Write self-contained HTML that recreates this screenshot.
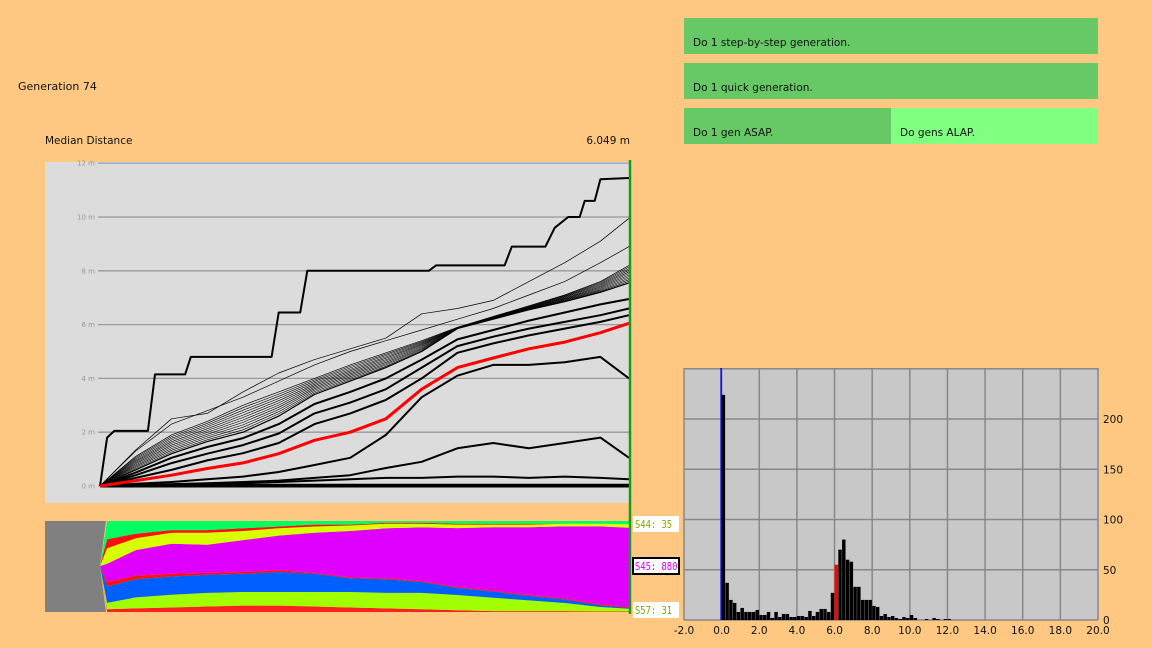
<!DOCTYPE html>
<html><head><meta charset="utf-8">
<style>
body{margin:0;width:1152px;height:648px;background:#fec882;overflow:hidden;font-family:"DejaVu Sans","Liberation Sans",sans-serif;}
svg{position:absolute;left:0;top:0}
.btn{position:absolute;font-size:10.5px;color:#111;box-sizing:border-box;padding:19px 0 0 9px;}
</style></head>
<body>
<div class="btn" style="left:684px;top:18px;width:414px;height:36px;background:#66c966">Do 1 step-by-step generation.</div>
<div class="btn" style="left:684px;top:63px;width:414px;height:36px;background:#66c966">Do 1 quick generation.</div>
<div class="btn" style="left:684px;top:108px;width:207px;height:36px;background:#66c966">Do 1 gen ASAP.</div>
<div class="btn" style="left:891px;top:108px;width:207px;height:36px;background:#80ff80">Do gens ALAP.</div>
<svg id="s" width="1152" height="648" xmlns="http://www.w3.org/2000/svg"></svg>
<script>
// ---- distance percentile chart data ----
const gens=[0,5,10,15,20,25,30,35,40,45,50,55,60,65,70,74];
const maxGens=[0,1,2,6.7,7.7,11.9,12.7,24,25,28,29,46,47,56.6,57.6,62.3,63.6,65.5,67.1,67.8,69.2,70,74];
const maxVals=[0,1.8,2.05,2.05,4.15,4.15,4.8,4.8,6.45,6.45,8.0,8.0,8.2,8.2,8.9,8.9,9.6,10.0,10.0,10.6,10.6,11.4,11.45];
const thinA=[0,1.34,2.5,2.7,3.5,4.2,4.7,5.1,5.5,6.4,6.6,6.9,7.6,8.3,9.1,9.95];
const thinB=[0,1.3,2.3,2.8,3.3,3.9,4.5,5.0,5.4,5.8,6.2,6.6,7.1,7.6,8.3,8.9];
const bundleTop=[0,1.1,1.9,2.4,3.0,3.5,4.0,4.5,4.95,5.4,5.9,6.3,6.7,7.1,7.6,8.2];
const bundleBottom=[0,0.6,1.2,1.65,2.0,2.6,3.4,3.9,4.4,5.0,5.85,6.2,6.55,6.85,7.2,7.55];
const thick1=[0,0.5,1.05,1.45,1.78,2.3,3.05,3.5,4.0,4.7,5.45,5.8,6.15,6.45,6.75,6.95];
const thick2=[0,0.4,0.85,1.2,1.52,1.95,2.7,3.1,3.6,4.4,5.2,5.55,5.85,6.1,6.35,6.6];
const thick3=[0,0.3,0.6,0.95,1.22,1.6,2.3,2.7,3.2,4.0,4.95,5.3,5.6,5.85,6.1,6.35];
const median=[0,0.2,0.4,0.65,0.86,1.2,1.7,2.0,2.5,3.6,4.4,4.76,5.1,5.35,5.7,6.05];
const lower1=[0,0.08,0.15,0.25,0.35,0.52,0.78,1.05,1.9,3.3,4.1,4.5,4.5,4.6,4.8,4.0];
const lower2=[0,0.04,0.07,0.1,0.15,0.2,0.3,0.4,0.67,0.9,1.4,1.6,1.4,1.6,1.8,1.05];
const lower3=[0,0.02,0.04,0.06,0.1,0.15,0.2,0.25,0.3,0.3,0.35,0.35,0.3,0.35,0.3,0.25];
const lower4=[0,0.02,0.03,0.03,0.04,0.05,0.05,0.05,0.05,0.05,0.05,0.05,0.05,0.05,0.05,0.05];
const minVals=[0,0,0,0,0,0,0,0,0,0,0,0,0,0,0,0];
const yTicks=[0,2,4,6,8,10,12];
// ---- species stack data (bottom to top) ----
const spGens=[1,5,10,15,20,25,30,35,40,45,50,55,60,65,70,74];
const spSmall=[.03,.04,.05,.06,.07,.07,.06,.05,.04,.03,.02,.01,.01,.01,.005,.005];
const spLime=[.07,.12,.14,.15,.15,.15,.16,.17,.17,.18,.17,.15,.12,.09,.05,.03];
const spBlue=[.18,.2,.2,.2,.2,.22,.2,.15,.15,.12,.08,.07,.05,.04,.02,.01];
const spRed1=[.05,.04,.03,.02,.02,.02,.01,.01,.01,.01,.01,.01,.01,.01,.01,.01];
const spMagenta=[.2,.28,.33,.31,.35,.38,.44,.51,.55,.59,.66,.71,.76,.8,.86,.88];
const spYellow=[.17,.13,.12,.13,.1,.08,.07,.06,.05,.04,.04,.03,.03,.03,.03,.04];
const spRed2=[.1,.05,.03,.03,.03,.02,.02,.01,.01,.01,.01,.01,.01,0,0,0];
const spGreen=[.2,.14,.1,.1,.08,.06,.04,.04,.02,.02,.03,.03,.03,.03,.03,.035];
// ---- histogram data (bins of 0.2 m starting at 0.0) ----
const histCounts=[224,37,20,17,8,12,8,8,8,10,5,5,8,2,8,3,6,6,3,3,4,4,3,9,4,8,11,11,8,27,55,70,80,60,58,33,33,20,20,20,14,13,4,6,3,4,2,1,3,2,5,2,0,0,1,0,2,1,0,1,1];
const histMedianBin=30;
const histXTicks=[-2,0,2,4,6,8,10,12,14,16,18,20];
const histYTicks=[0,50,100,150,200];

const S=document.getElementById('s');const NS='http://www.w3.org/2000/svg';
function mk(t,a,p){const e=document.createElementNS(NS,t);for(const k in a)e.setAttribute(k,a[k]);(p||S).appendChild(e);return e;}

let t=mk('text',{x:18,y:90,'font-size':11,fill:'#111'});t.textContent='Generation 74';

t=mk('text',{x:45,y:144,'font-size':10.5,fill:'#111'});t.textContent='Median Distance';

t=mk('text',{x:630,y:144,'font-size':10.5,fill:'#111','text-anchor':'end'});t.textContent='6.049 m';


const gx=g=>100+g*(529/74), gy=v=>486-v*26.9;
const bg=mk('rect',{x:45,y:162,width:585,height:341,fill:'#dcdcdc'});

yTicks.forEach(v=>{
  const l=mk('line',{x1:98,x2:630,y1:gy(v),y2:gy(v),stroke:v==12?'#9ab':'#999','stroke-width':1.3});
  
  const tx=mk('text',{x:95,y:gy(v)+2.5,'font-size':7,fill:'#999','text-anchor':'end'});tx.textContent=v+' m';
  
});
function line(xs,vs,w,c,name){
  const d=vs.map((v,i)=>(i?'L':'M')+gx(xs[i]).toFixed(1)+' '+gy(v).toFixed(1)).join(' ');
  const p=mk('path',{d:d,fill:'none',stroke:c,'stroke-width':w,'stroke-linejoin':'round'});
  
}
for(let k=1;k<=10;k++){const f=k/11;line(gens,bundleBottom.map((b,i)=>b+(bundleTop[i]-b)*f),0.6,'#000','percentile-line-thin');}
line(gens,bundleTop,0.7,'#000','percentile-line-thin');
line(gens,thinB,0.7,'#000','percentile-line-thin');
line(gens,thinA,0.7,'#000','percentile-line-thin');
line(gens,bundleBottom,1.2,'#000','percentile-line');
line(gens,thick1,2,'#000','percentile-line-thick');
line(gens,thick2,2,'#000','percentile-line-thick');
line(gens,thick3,2,'#000','percentile-line-thick');
line(gens,lower1,2,'#000','percentile-line-thick');
line(gens,lower2,2,'#000','percentile-line-thick');
line(gens,lower3,2,'#000','percentile-line-thick');
line(gens,lower4,2,'#000','percentile-line-thick');
line(gens,minVals,3,'#000','min-line');
line(maxGens,maxVals,2,'#000','max-line');
line(gens,median,3,'#ff0000','median-line');

const sx=g=>100+g*(529/74), sH=91;
const gray=mk('polygon',{points:'45,521 106,521 100,566 106,612 45,612',fill:'#808080'});

const layers=[[spSmall,'#ff2020'],[spLime,'#a0ff00'],[spBlue,'#0060ff'],[spRed1,'#ff1010'],[spMagenta,'#e000ff'],[spYellow,'#d8ff00'],[spRed2,'#ff1010'],[spGreen,'#00ff60']];
const totals=spGens.map((g,i)=>layers.reduce((s,L)=>s+L[0][i],0));
let cum=spGens.map(()=>0);
layers.forEach(([arr,c])=>{
  const lo=cum.slice(); cum=cum.map((v,i)=>v+arr[i]/totals[i]);
  const yb=v=>612-v*sH;
  let pts=spGens.map((g,i)=>sx(g).toFixed(1)+','+yb(cum[i]).toFixed(1));
  pts=pts.concat(spGens.map((g,i)=>sx(g).toFixed(1)+','+yb(lo[i]).toFixed(1)).reverse());
  pts.push('100,566');
  const p=mk('polygon',{points:pts.join(' '),fill:c});
  
});
const vl=mk('line',{x1:630,x2:630,y1:160,y2:614,stroke:'#1a9a1a','stroke-width':2.5});

[['S44: 35',516,'#8aa800',false],['S45: 880',558,'#d000f0',true],['S57: 31',602,'#7aa800',false]].forEach(([s,y,c,b])=>{
  const r=mk('rect',{x:633,y:y,width:46,height:16,fill:'#fff',stroke:b?'#000':'none','stroke-width':2});
  
  const tx=mk('text',{x:635,y:y+12,'font-size':10.5,fill:c,'font-family':'DejaVu Sans Mono, Liberation Mono, monospace',textLength:s.length*5.3,lengthAdjust:'spacingAndGlyphs'});tx.textContent=s;
  
});

const hx=v=>684+(v+2)*(414/22), hy=c=>620-c*1.005;
const hb=mk('rect',{x:684,y:368,width:414,height:252,fill:'#c8c8c8'});

histXTicks.forEach(v=>{
  const l=mk('line',{x1:hx(v),x2:hx(v),y1:368,y2:620,stroke:'#888','stroke-width':1.5});
  
  const tx=mk('text',{x:hx(v),y:634,'font-size':10.5,fill:'#111','text-anchor':'middle'});tx.textContent=v.toFixed(1);
  
});
histYTicks.concat([250]).forEach(v=>{
  const l=mk('line',{x1:684,x2:1098,y1:hy(v),y2:hy(v),stroke:'#888','stroke-width':1.5});
  
});
histYTicks.forEach(v=>{
  const tx=mk('text',{x:1103,y:hy(v)+4,'font-size':10.5,fill:'#111'});tx.textContent=v;
  
});
histCounts.forEach((c,i)=>{
  if(!c)return;
  const x0=hx(i*0.2),x1=hx((i+1)*0.2);
  const r=mk('rect',{x:x0,y:hy(c),width:x1-x0-0.3,height:620-hy(c),fill:i==histMedianBin?'#ff0000':'#000'});
  
});
const bl=mk('line',{x1:hx(0)-0.5,x2:hx(0)-0.5,y1:368,y2:620,stroke:'#0000ff','stroke-width':1.5});

</script>
</body></html>
